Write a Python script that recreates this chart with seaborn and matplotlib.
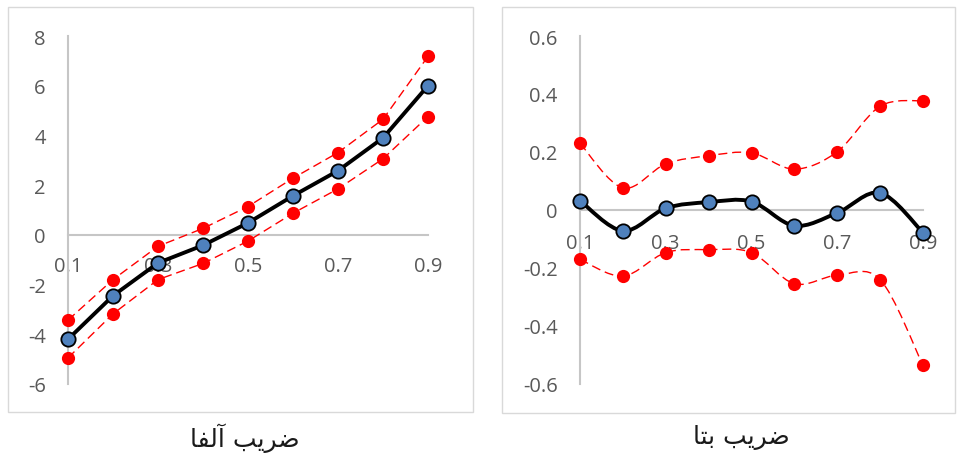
import numpy as np
import pandas as pd
import seaborn as sns
import matplotlib.pyplot as plt
from matplotlib.path import Path
from matplotlib.patches import PathPatch, Rectangle

# ---- data -------------------------------------------------------------
categories = [0.1, 0.2, 0.3, 0.4, 0.5, 0.6, 0.7, 0.8, 0.9]

alpha_est = [-4.20, -2.45, -1.13, -0.42, 0.48, 1.57, 2.58, 3.90, 6.00]
alpha_upper = [-3.43, -1.80, -0.46, 0.26, 1.14, 2.28, 3.31, 4.65, 7.18]
alpha_lower = [-4.95, -3.18, -1.80, -1.15, -0.25, 0.87, 1.85, 3.06, 4.76]

beta_est = [0.032, -0.072, 0.006, 0.027, 0.029, -0.054, -0.010, 0.059, -0.078]
beta_upper = [0.230, 0.076, 0.159, 0.187, 0.197, 0.141, 0.201, 0.358, 0.377]
beta_lower = [-0.170, -0.228, -0.147, -0.137, -0.147, -0.254, -0.225, -0.240, -0.536]

xtick_values = [0.1, 0.3, 0.5, 0.7, 0.9]
xtick_labels = ["0.1", "0.3", "0.5", "0.7", "0.9"]
alpha_yticks = [-6, -4, -2, 0, 2, 4, 6, 8]
alpha_yticklabels = ["-6", "-4", "-2", "0", "2", "4", "6", "8"]
beta_yticks = [-0.6, -0.4, -0.2, 0.0, 0.2, 0.4, 0.6]
beta_yticklabels = ["-0.6", "-0.4", "-0.2", "0", "0.2", "0.4", "0.6"]

# Arabic captions in shaped (presentation) forms, visual order
alpha_title = "ﺎﻔﻟﺁ ﺐﻳﺮﺿ"   # ضريب آلفا
beta_title = "ﺎﺘﺑ ﺐﻳﺮﺿ"     # ضريب بتا

# ---- style ------------------------------------------------------------
sns.set_theme(style="white")
plt.rcParams["font.family"] = ["Open Sans", "DejaVu Sans"]
plt.rcParams["axes.unicode_minus"] = False

GREY_TXT = "#595959"
AXIS_GREY = "#C6C6C6"
BOX_GREY = "#D9D9D9"
BLUE = "#4F81BD"
RED = "#FF0000"

W, H = 957, 456
fig = plt.figure(figsize=(W / 100, H / 100), dpi=100)


def px_rect(x0, y0, x1, y1):
    """Figure-fraction rectangle from pixel corners (top-left origin)."""
    return [x0 / W, 1 - y1 / H, (x1 - x0) / W, (y1 - y0) / H]


def smooth_path(x, y):
    pts = np.column_stack([x, y]).astype(float)
    n = len(pts)
    verts = [pts[0]]
    codes = [Path.MOVETO]
    for i in range(n - 1):
        p0 = pts[i - 1] if i > 0 else pts[i]
        p1, p2 = pts[i], pts[i + 1]
        p3 = pts[i + 2] if i + 2 < n else pts[i + 1]
        verts += [p1 + (p2 - p0) / 6, p2 - (p3 - p1) / 6, p2]
        codes += [Path.CURVE4] * 3
    return Path(verts, codes)


DASH = (0, (6.5, 3.5))


def draw_panel(ax, est, upper, lower, ylim, yticks, yticklabels, smooth, xpad):
    df = pd.DataFrame({"x": categories, "est": est, "upper": upper, "lower": lower})

    for col in ("upper", "lower"):
        if smooth:
            ax.add_patch(PathPatch(smooth_path(df["x"], df[col]), fill=False,
                                   edgecolor=RED, lw=1.0, linestyle=DASH,
                                   zorder=3, clip_on=False))
        else:
            sns.lineplot(data=df, x="x", y=col, ax=ax, color=RED, lw=1.0,
                         linestyle=DASH, zorder=3, clip_on=False)
        sns.scatterplot(data=df, x="x", y=col, ax=ax, color=RED, s=9.5 ** 2,
                        linewidth=0, zorder=4, clip_on=False)

    if smooth:
        ax.add_patch(PathPatch(smooth_path(df["x"], df["est"]), fill=False,
                               edgecolor="black", lw=2.8, zorder=5,
                               capstyle="round", joinstyle="round", clip_on=False))
    else:
        sns.lineplot(data=df, x="x", y="est", ax=ax, color="black", lw=2.8,
                     zorder=5, clip_on=False, solid_joinstyle="round")
    sns.scatterplot(data=df, x="x", y="est", ax=ax, color=BLUE, s=10.3 ** 2,
                    edgecolor="black", linewidth=1.3, zorder=6, clip_on=False)

    ax.set_xlim(categories[0], categories[-1])
    ax.set_ylim(*ylim)
    ax.set_xticks(xtick_values)
    ax.set_xticklabels(xtick_labels)
    ax.set_yticks(yticks)
    ax.set_yticklabels(yticklabels)
    ax.set_xlabel("")
    ax.set_ylabel("")
    ax.patch.set_alpha(0)

    for side in ("top", "right"):
        ax.spines[side].set_visible(False)
    ax.spines["bottom"].set_position(("data", 0))
    for side in ("left", "bottom"):
        ax.spines[side].set_color(AXIS_GREY)
        ax.spines[side].set_linewidth(1.5)
        ax.spines[side].set_zorder(1)
    ax.tick_params(axis="both", length=0, labelsize=14.5, labelcolor=GREY_TXT)
    ax.tick_params(axis="x", pad=xpad)
    ax.tick_params(axis="y", pad=16)


# outer chart-area frames
fig.add_artist(Rectangle((8 / W, 1 - 413 / H), 465 / W, 405 / H,
                         transform=fig.transFigure, fill=False,
                         edgecolor=BOX_GREY, lw=1.0))
fig.add_artist(Rectangle((502 / W, 1 - 414 / H), 453 / W, 406 / H,
                         transform=fig.transFigure, fill=False,
                         edgecolor=BOX_GREY, lw=1.0))

ax1 = fig.add_axes(px_rect(68, 37, 428, 385))
draw_panel(ax1, alpha_est, alpha_upper, alpha_lower, (-6, 8),
           alpha_yticks, alpha_yticklabels, smooth=False, xpad=15)

ax2 = fig.add_axes(px_rect(580, 37, 923, 385))
draw_panel(ax2, beta_est, beta_upper, beta_lower, (-0.6, 0.6),
           beta_yticks, beta_yticklabels, smooth=True, xpad=16.5)

fig.text(245 / W, 1 - 438 / H, alpha_title, ha="center", va="center",
         fontsize=18, color="#1A1A1A", family=["DejaVu Sans"])
fig.text(741 / W, 1 - 438 / H, beta_title, ha="center", va="center",
         fontsize=18, color="#1A1A1A", family=["DejaVu Sans"])

fig.savefig("out.png", dpi=100)
